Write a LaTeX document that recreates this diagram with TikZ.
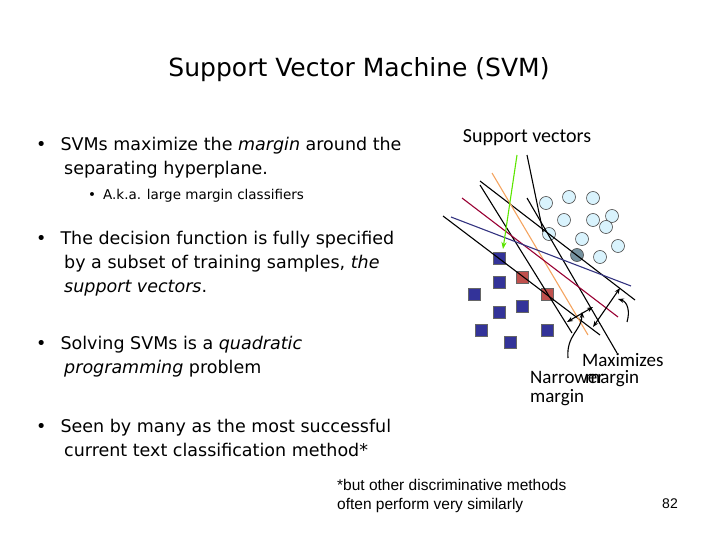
\documentclass[tikz,border=0pt]{standalone}
\usepackage{fontspec}
\setmainfont{DejaVu Sans}
\newfontfamily\calfnt{Carlito}
\newfontfamily\arifnt{Liberation Sans}
\usetikzlibrary{arrows.meta}
\definecolor{navyq}{HTML}{333399}
\definecolor{redq}{HTML}{C0504D}
\definecolor{tanl}{HTML}{F4A460}
\definecolor{marl}{HTML}{990033}
\definecolor{bluel}{HTML}{333380}
\begin{document}
\begin{tikzpicture}[x=1pt,y=-1pt,
  txt/.style={anchor=north west,inner sep=0,align=left,font=\fontsize{17.5}{24}\selectfont},
  lbl/.style={inner sep=0,anchor=west,font=\calfnt\fontsize{19}{19}\selectfont},
  circ/.style={circle,draw=black!70,fill=cyan!15!white,minimum size=13,inner sep=0,line width=0.6},
  sq/.style={draw=black!60,fill=navyq,minimum size=12,inner sep=0},
  rsq/.style={draw=black!60,fill=redq,minimum size=12,inner sep=0},
  ln/.style={line width=1.1}]
\useasboundingbox (0,0) rectangle (720,540);
\node[inner sep=0,font=\fontsize{25}{28}\selectfont] (title) at (359,70) {Support Vector Machine (SVM)};
\node[txt] (b1) at (36,137) {•\hspace{14pt}SVMs maximize the \textit{margin} around the\\\hspace{28pt}separating hyperplane.};
\node[txt,font=\fontsize{13.5}{15}\selectfont] (b1a) at (88,189) {•\hspace{7pt}A.k.a. large margin classifiers};
\node[txt] (b2) at (36,231) {•\hspace{14pt}The decision function is fully specified\\\hspace{28pt}by a subset of training samples, \textit{the}\\\hspace{28pt}\textit{support vectors}.};
\node[txt] (b3) at (36,336) {•\hspace{14pt}Solving SVMs is a \textit{quadratic}\\\hspace{28pt}\textit{programming} problem};
\node[txt] (b4) at (36,419) {•\hspace{14pt}Seen by many as the most successful\\\hspace{28pt}current text classification method*};
\node[txt,font=\arifnt\fontsize{15.5}{19}\selectfont] (fn) at (337,479) {*but other discriminative methods\\often perform very similarly};
\node[inner sep=0,font=\arifnt\fontsize{14}{14}\selectfont] (pg) at (670,504) {82};
\node[inner sep=0,font=\calfnt\fontsize{20}{20}\selectfont] (sv) at (527,138) {Support vectors};
% points
\foreach \p/\q [count=\i] in {546/203,569/197,593/198,564/220,593/220,612/216,606/227,549/234,582/239,618/246,600/257}
  \node[circ] (c\i) at (\p,\q) {};
\node[circ,fill=cyan!40!black!70] (cd) at (577,255) {};
\foreach \p/\q [count=\i] in {499/258,499/282,474/294,499/312,522/306,481/330,510/342,547/330}
  \node[sq] (s\i) at (\p,\q) {};
\node[rsq] (r1) at (522,277) {};
\node[rsq] (r2) at (547,294) {};
% lines
\coordinate (a1) at (443,216); \coordinate (a2) at (600,335);
\coordinate (bl1) at (451,217); \coordinate (bl2) at (631,286);
\coordinate (rd1) at (462,198); \coordinate (rd2) at (618,317);
\coordinate (o1) at (492,173); \coordinate (o2) at (588,335);
\coordinate (k1) at (480,181); \coordinate (k2) at (635,300);
\coordinate (m1) at (480,185); \coordinate (m2) at (572,333);
\coordinate (n1) at (527,155); \coordinate (n2) at (543,232);
\coordinate (p1) at (527,198); \coordinate (p2) at (617,353);
\draw[ln] (a1) -- (a2);
\draw[ln] (k1) -- (k2);
\draw[ln] (m1) -- (m2);
\draw[ln] (n1) -- (n2);
\draw[ln] (p1) -- (p2);
\draw[ln,draw=tanl] (o1) -- (o2);
\draw[ln,draw=marl] (rd1) -- (rd2);
\draw[ln,draw=bluel] (bl1) -- (bl2);
\coordinate (g1) at (517,155); \coordinate (g2) at (503,249);
\draw[ln,draw=green!60!yellow!90!black,-{Stealth[length=7pt]}] (g1) -- (g2);
% margins
\coordinate (na) at (567,322); \coordinate (nb) at (593,307);
\draw[ln,{Stealth[length=6pt]}-{Stealth[length=6pt]}] (na) -- (nb);
\coordinate (nc) at (568,358); \coordinate (nd) at (582,312);
\draw[ln,-{Stealth[length=6pt]}] (nc) .. controls (566,335) and (582,330) .. (nd);
\coordinate (ma) at (593,327); \coordinate (mb) at (620,288);
\draw[ln,{Stealth[length=6pt]}-{Stealth[length=6pt]}] (ma) -- (mb);
\coordinate (mc) at (627,322); \coordinate (md) at (618,299);
\draw[ln,-{Stealth[length=6pt]}] (mc) .. controls (630,312) and (628,302) .. (md);
\node[lbl] (mx1) at (582,360) {Maximizes};
\node[lbl] (mx2) at (585,379) {margin};
\node[lbl] (nw1) at (530,377) {Narrower};
\node[lbl] (nw2) at (530,398) {margin};
\end{tikzpicture}
\end{document}
